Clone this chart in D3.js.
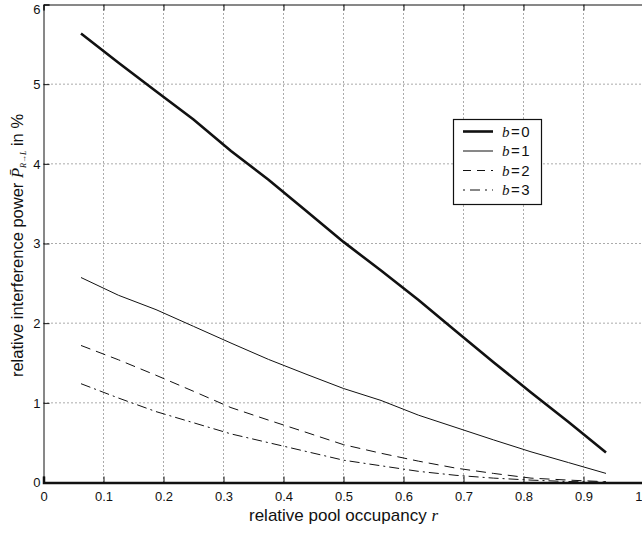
<!DOCTYPE html>
<html><head><meta charset="utf-8">
<script src="https://cdn.jsdelivr.net/npm/d3@7"></script>
<style>body{margin:0;background:#fff}svg{display:block}</style>
</head><body>
<svg id="c" width="642" height="533"></svg>
<script>
const xValues = [0.0625,0.125,0.1875,0.25,0.3125,0.375,0.4375,0.5,0.5625,0.625,0.6875,0.75,0.8125,0.875,0.9375];
const b0 = [5.635,5.27,4.91,4.556,4.16,3.80,3.41,3.02,2.66,2.29,1.90,1.51,1.13,0.76,0.377];
const b1 = [2.573,2.35,2.17,1.96,1.75,1.545,1.36,1.18,1.03,0.845,0.69,0.535,0.385,0.25,0.114];
const b2 = [1.72,1.54,1.346,1.145,0.94,0.783,0.63,0.475,0.367,0.268,0.18,0.114,0.055,0.03,0.01];
const b3 = [1.24,1.06,0.89,0.75,0.61,0.50,0.39,0.28,0.21,0.14,0.09,0.055,0.03,0.012,0.004];
const seriesNames = ["0","1","2","3"];
const xTicks = [0,0.1,0.2,0.3,0.4,0.5,0.6,0.7,0.8,0.9,1];
const yTicks = [0,1,2,3,4,5,6];

const svg = d3.select("#c");
const x = d3.scaleLinear().domain([0,1]).range([43.5,643.5]);
const y = d3.scaleLinear().domain([0,6]).range([482.5,4.5]);
const font = "'Liberation Sans', Arial, sans-serif";

// grid
const g = svg.append("g");
g.selectAll("line.gx").data(xTicks.slice(1,-1)).join("line")
  .attr("x1",d=>x(d)).attr("x2",d=>x(d)).attr("y1",y(0)).attr("y2",y(6))
  .attr("stroke","#444").attr("stroke-width",0.9).attr("stroke-dasharray","1,3");
g.selectAll("line.gy").data(yTicks.slice(1,-1)).join("line")
  .attr("y1",d=>y(d)).attr("y2",d=>y(d)).attr("x1",x(0)).attr("x2",x(1))
  .attr("stroke","#444").attr("stroke-width",0.9).attr("stroke-dasharray","1,3");

// axes
const xAxis = d3.axisBottom(x).tickValues(xTicks).tickSize(-6).tickPadding(9)
  .tickFormat(d=>d===0?"0":(d===1?"1":d3.format(".1f")(d)));
const ax = svg.append("g").attr("transform",`translate(0,${y(0)})`).call(xAxis);
ax.select(".domain").attr("stroke-width",2.5).attr("stroke","#111");
ax.selectAll(".tick line").attr("stroke","#111");
ax.selectAll("text").attr("font-family",font).attr("font-size",13).attr("fill","#111");
ax.selectAll(".tick").filter(d=>d===1).select("text").attr("text-anchor","end").attr("x",-1.5);

const yAxis = d3.axisLeft(y).tickValues(yTicks).tickSize(-6).tickPadding(3).tickFormat(d3.format("d"));
const ay = svg.append("g").attr("transform",`translate(${x(0)},0)`).call(yAxis);
ay.select(".domain").attr("stroke","#111");
ay.selectAll(".tick line").attr("stroke","#111");
ay.selectAll("text").attr("font-family",font).attr("font-size",13).attr("fill","#111");
ay.selectAll(".tick").filter(d=>d===6).select("text").attr("dy","0.72em").attr("y",-0.5);

// top border with ticks
const at = svg.append("g").attr("transform",`translate(0,${y(6)})`)
  .call(d3.axisTop(x).tickValues(xTicks).tickSize(-6).tickFormat(""));
at.select(".domain").attr("stroke","#111");
at.selectAll(".tick line").attr("stroke","#111");

// lines
const line = d3.line().x((d,i)=>x(xValues[i])).y(d=>y(d));
const styles = [
  {w:2.6,dash:null},
  {w:1.0,dash:null},
  {w:1.0,dash:"10,6"},
  {w:1.0,dash:"10,4,2,4"}
];
[b0,b1,b2,b3].forEach((s,k)=>{
  svg.append("path").datum(s).attr("d",line).attr("fill","none")
    .attr("stroke","#111").attr("stroke-width",styles[k].w)
    .attr("stroke-dasharray",styles[k].dash);
});

// legend
const lg = svg.append("g");
lg.append("rect").attr("x",453.5).attr("y",119.5).attr("width",88).attr("height",85)
  .attr("fill","#fff").attr("stroke","#111").attr("stroke-width",1.2);
seriesNames.forEach((n,k)=>{
  const yy = 131.5 + k*19.5;
  lg.append("line").attr("x1",463).attr("x2",493).attr("y1",yy).attr("y2",yy)
    .attr("stroke","#111").attr("stroke-width",styles[k].w).attr("stroke-dasharray",k===2?"8,6":(k===3?"2,5,10,5":styles[k].dash));
  const t = lg.append("text").attr("x",502).attr("y",yy+5).attr("font-size",15).attr("fill","#111");
  t.append("tspan").attr("font-family","'Liberation Serif', serif").attr("font-style","italic").text("b");
  t.append("tspan").attr("font-family",font).attr("dx",1.5).text("=");
  t.append("tspan").attr("font-family",font).attr("dx",1.5).text(n);
});

// x title
const xt = svg.append("text").attr("x",x(0.5)).attr("y",521).attr("text-anchor","middle")
  .attr("font-family",font).attr("font-size",17).attr("fill","#111");
xt.append("tspan").text("relative pool occupancy ");
xt.append("tspan").attr("font-family","'Liberation Serif', serif").attr("font-style","italic").text("r");

// y title
const yt = svg.append("text").attr("transform",`translate(23,${y(3)+2}) rotate(-90)`)
  .attr("text-anchor","middle").attr("font-family",font).attr("font-size",16.5).attr("fill","#111");
yt.append("tspan").text("relative interference power ");
yt.append("tspan").attr("font-family","'Liberation Serif', serif").attr("font-style","italic").text("P\u0304");
yt.append("tspan").attr("font-family","'Liberation Serif', serif").attr("font-style","italic")
  .attr("font-size",8).attr("dy",3).text("R\u2192L");
yt.append("tspan").attr("dy",-3).text(" in %");
</script>
</body></html>
